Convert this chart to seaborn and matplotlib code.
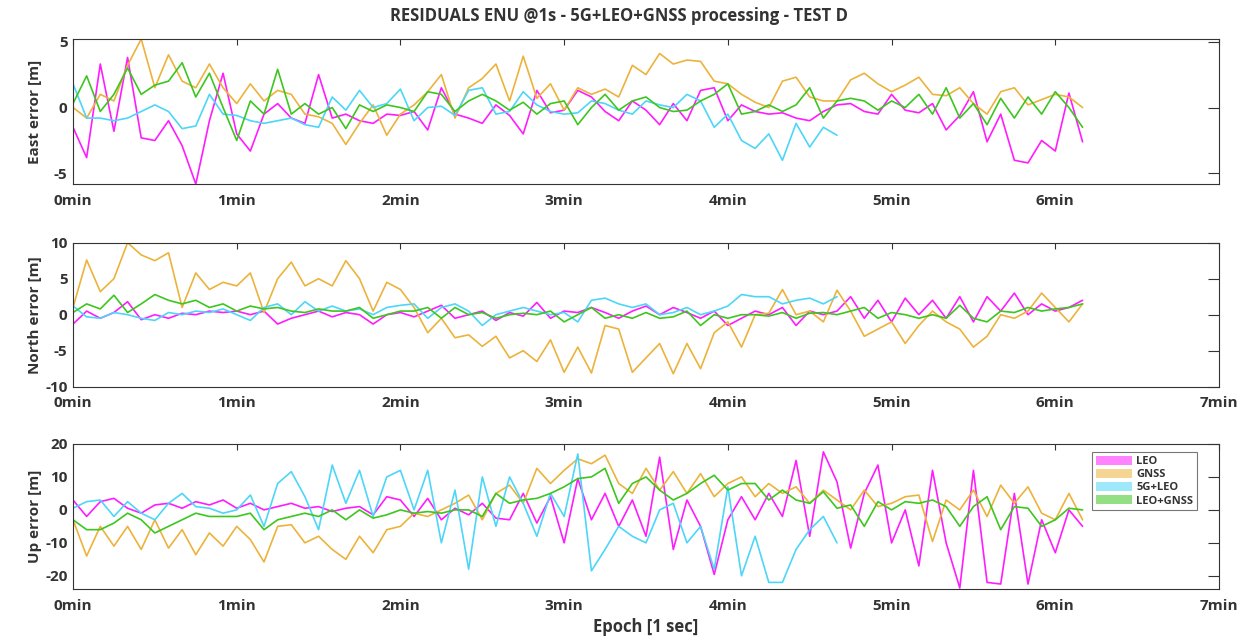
import numpy as np
import pandas as pd
import matplotlib
matplotlib.use("Agg")
import matplotlib.pyplot as plt
from matplotlib.patches import Patch
import seaborn as sns

# epochs in seconds (one value read every 5 s)
epochs_full = np.arange(0, 371, 5)
epochs_5g = np.arange(0, 281, 5)

names = ["LEO", "GNSS", "5G+LEO", "LEO+GNSS"]
colors = ["#FF1CFF", "#ECB33C", "#4DD6F8", "#3DC61F"]

# East error [m]
east_leo = [-1.5, -3.8, 3.3, -1.8, 3.8, -2.3, -2.5, -1.0, -2.9, -5.8,
            -1.0, 2.6, -2.0, -3.3, -0.5, 0.3, -0.8, -1.2, 2.5, -0.8,
            -0.5, -1.0, -1.2, -0.5, -0.6, -0.3, -1.7, 1.5, -0.5, -0.8,
            -1.2, 0.2, -0.6, -2.0, 1.3, -0.4, -0.2, 1.3, 0.8, -0.3,
            -1.0, 0.5, -0.2, -1.3, 0.3, -1.0, 1.3, 1.5, -1.0, 0.2,
            -0.3, -0.5, -0.4, -0.8, -1.0, -0.3, 0.2, 0.3, -0.3, -0.5,
            1.0, -0.2, -0.4, 0.3, -1.7, -0.6, 1.2, -2.6, -0.5, -4.0,
            -4.2, -2.5, -3.3, 1.1, -2.6]
east_gnss = [0.0, -0.8, 1.0, 0.5, 3.2, 5.2, 1.5, 4.0, 2.0, 1.5,
             3.3, 1.5, 0.3, 1.8, 0.5, 1.3, 1.0, -0.5, -0.7, -1.2,
             -2.8, -1.2, 0.2, -2.1, -0.5, 0.2, 1.2, 2.5, -0.8, 1.5,
             2.2, 3.3, 0.5, 3.9, 0.7, 1.8, -0.2, 1.5, 1.0, 1.4,
             0.8, 3.2, 2.5, 4.1, 3.3, 3.6, 3.5, 2.0, 1.8, 1.0,
             0.4, 0.0, 2.0, 2.3, 0.8, 0.5, 0.5, 2.1, 2.6, 1.8,
             1.2, 1.7, 2.3, 1.0, 0.9, 1.5, 0.3, -0.5, 1.2, 1.5,
             0.2, 0.6, 1.0, 0.8, 0.0]
east_5g = [1.8, -0.8, -0.8, -1.0, -0.8, -0.3, 0.2, -0.3, -1.6, -1.4,
           1.0, -0.5, -0.6, -1.0, -1.2, -1.0, -0.8, -1.3, -1.5, 0.8,
           -0.2, 1.3, 0.0, 0.3, 1.4, -1.0, 0.0, 0.1, -0.6, 1.3,
           1.5, -0.5, -0.3, 1.2, 0.2, -0.3, -0.5, -0.4, 0.5, 0.3,
           -0.2, -0.5, 0.5, 0.2, 0.0, 1.0, 0.5, -1.5, -0.5, -2.5,
           -3.1, -2.0, -4.0, -1.2, -3.0, -1.5, -2.1]
east_lg = [0.3, 2.4, -0.3, 1.0, 3.0, 1.0, 1.7, 2.0, 3.4, 0.8,
           2.6, 0.0, -2.5, 0.5, -0.5, 2.9, -0.5, 0.3, -0.5, 0.0,
           -1.6, 0.2, -0.3, 0.2, 0.0, -0.3, 1.2, 1.0, -0.3, 0.5,
           1.0, 0.5, -0.2, 0.4, -0.5, 0.3, 0.5, -1.3, 0.0, 1.0,
           -0.2, 0.5, 0.8, 0.0, -0.3, -0.2, 0.5, 1.0, 1.8, -0.5,
           -0.3, 0.2, -0.3, 0.2, 1.5, -0.8, 0.5, 0.7, 0.5, -0.2,
           0.5, 0.0, 1.0, -0.5, 1.5, -0.8, 0.3, -1.3, 0.7, -0.8,
           0.8, -0.5, 1.2, 0.0, -1.5]

# North error [m]
north_leo = [-1.3, 0.5, -0.5, 0.3, 1.8, -0.7, 0.0, -0.5, 0.2, 0.0,
             0.5, 0.3, 0.5, 0.0, 0.5, -1.3, -0.5, 0.0, 0.5, -0.3,
             0.3, 0.0, -1.3, 0.0, 0.3, -0.3, 0.5, 1.3, -0.5, 0.0,
             0.5, -0.8, 0.3, -0.2, 1.7, -0.5, 0.5, 0.3, 1.0, 0.3,
             -0.5, 0.5, 1.2, 0.0, 1.0, 0.3, -0.5, 0.5, -1.5, -0.5,
             0.5, 0.0, 1.0, -1.5, 0.5, 0.0, 0.5, 2.5, -0.5, 2.0,
             -1.0, 2.3, 0.0, 2.0, -0.5, 2.5, -1.0, 2.5, 0.5, 3.0,
             0.0, 1.5, 0.5, 1.0, 2.0]
north_gnss = [1.0, 7.6, 3.2, 5.0, 10.0, 8.3, 7.5, 8.6, 1.0, 5.8,
              3.5, 4.5, 4.0, 5.8, 0.3, 5.0, 7.3, 4.0, 5.0, 4.0,
              7.5, 5.0, 0.5, 4.5, 3.5, 1.0, -2.5, -0.5, -3.2, -2.8,
              -4.4, -3.0, -6.0, -5.0, -6.5, -3.5, -8.0, -4.5, -8.1, -1.5,
              -2.0, -8.0, -6.0, -4.0, -8.2, -4.0, -7.5, -2.5, -1.0, -4.5,
              0.0, 0.2, 3.5, 0.0, 0.5, -1.0, 3.4, 0.5, -3.0, -2.0,
              -1.0, -4.0, -1.5, 0.5, -1.0, -2.0, -4.5, -3.0, 0.0, -0.5,
              0.5, 3.0, 1.0, -1.0, 1.5]
north_5g = [1.2, -0.3, -0.5, 0.3, 0.0, -0.5, -0.8, 0.3, 0.0, 0.5,
            0.3, 0.8, 0.0, -0.8, 1.0, 1.5, 0.0, 1.8, 0.5, 1.2,
            0.5, 0.8, 0.0, 1.0, 1.3, 1.5, -0.5, 1.0, 1.5, 0.5,
            -1.5, 0.0, 0.5, 1.0, 0.5, 0.0, 0.3, -1.0, 2.0, 2.3,
            1.5, 1.0, 1.5, 0.0, 0.3, 1.0, 0.0, 0.5, 1.2, 2.8,
            2.5, 2.5, 1.5, 2.0, 2.3, 1.5, 2.5]
north_lg = [0.3, 1.5, 0.8, 2.7, 0.3, 1.5, 2.8, 2.0, 1.5, 2.0,
            1.0, 1.5, 0.5, 1.2, 0.8, 1.0, 0.5, 0.3, 0.8, 0.5,
            0.5, 1.0, -0.5, 0.0, 0.5, 0.5, 1.0, -0.5, 1.0, 0.0,
            0.3, -0.5, 0.0, 0.2, 0.0, 0.5, -1.0, 0.0, 1.0, -0.5,
            0.0, -0.5, 0.3, -0.5, -0.3, 0.5, -1.5, 0.0, -0.5, 0.0,
            0.0, -0.2, 0.3, -0.5, 0.2, 0.3, 0.0, 0.5, 1.0, -0.5,
            0.3, 0.0, -0.5, 0.0, -0.5, 1.3, -0.5, -1.0, 0.5, 0.3,
            1.0, 0.5, 0.8, 1.0, 1.5]

# Up error [m]
up_leo = [3.0, -2.0, 2.5, 3.5, 0.5, -1.0, 1.5, 2.0, 0.5, 2.5,
          1.5, 3.0, 0.5, 2.0, 0.0, 1.0, 2.0, 0.5, 1.0, -0.5,
          0.5, 1.0, -1.5, 4.0, 3.0, -2.0, 3.5, -3.0, 0.5, -1.5,
          2.0, -2.5, -3.0, 5.0, -4.0, 4.0, -10.0, 9.5, -3.0, 5.0,
          -5.0, 3.0, -8.0, 16.0, -12.0, 3.0, -5.0, -19.6, -3.0, 4.0,
          -3.0, 5.0, -2.0, 15.0, -8.0, 17.6, 8.5, -11.6, 5.0, 13.6,
          -10.0, 0.0, -17.0, 12.0, -10.0, -23.7, 12.0, -22.0, -22.5, 5.0,
          -22.5, -3.0, -13.0, 0.0, -5.0]
up_gnss = [-3.0, -14.0, -5.0, -11.0, -5.0, -12.0, -3.0, -11.6, -6.0, -13.6,
           -7.0, -11.0, -5.0, -9.0, -15.8, -5.0, -4.5, -10.0, -8.0, -12.0,
           -15.0, -8.0, -13.0, -6.0, -5.0, -1.0, -2.0, 0.0, 2.0, 4.5,
           -3.0, 5.0, 7.5, 2.0, 12.6, 8.0, 12.0, 15.5, 14.0, 16.6,
           8.0, 5.0, 12.6, 6.0, 11.6, 5.0, 11.0, 4.0, 8.0, 10.0,
           4.0, 8.0, 5.0, 7.0, 2.0, 6.0, 3.0, 0.0, 6.0, 1.0,
           2.0, 4.0, 4.5, -9.6, 3.0, 0.0, 6.0, -2.0, 7.5, 2.0,
           7.0, -1.0, -3.0, 5.0, -3.0]
up_5g = [0.5, 2.5, 3.0, -2.0, 2.5, -1.0, -3.0, 2.0, 5.0, 1.0,
         0.5, -1.0, 0.0, 4.5, -5.0, 8.0, 11.6, 4.0, -6.0, 13.6,
         2.0, 12.0, -2.0, 10.0, 12.0, 0.0, 12.0, -10.0, 6.0, -18.0,
         10.0, -5.0, 10.0, 2.0, -8.0, 5.0, -2.0, 17.0, -18.5, -12.0,
         -5.0, -8.0, -10.0, 0.0, 2.0, -10.0, -5.0, -18.0, 7.0, -20.0,
         -8.0, -22.0, -22.0, -12.0, -6.0, -2.0, -10.0]
up_lg = [-3.0, -6.0, -6.0, -4.0, -1.0, -3.0, -7.0, -5.0, -3.0, -1.0,
         -2.0, -2.0, -2.0, -1.0, -6.0, -3.0, -2.0, -1.0, -2.0, 0.0,
         -3.0, 0.0, -2.5, -1.5, 0.0, -1.0, -0.5, -1.0, 0.0, 0.0,
         -2.0, 5.0, 2.0, 3.0, 3.5, 5.0, 7.0, 9.5, 10.0, 12.6,
         2.0, 8.0, 10.0, 6.0, 3.0, 5.0, 8.0, 10.5, 6.0, 8.0,
         8.0, 3.0, 6.0, 3.0, 2.0, 5.5, 0.5, 1.5, -5.0, 2.5,
         0.0, 2.5, 2.0, 3.0, 1.0, -5.0, 1.0, 4.0, -6.0, 1.0,
         0.5, -5.0, -3.0, 0.5, 0.0]

xtick_sec = [0, 60, 120, 180, 240, 300, 360, 420]
xtick_lab = ["0min", "1min", "2min", "3min", "4min", "5min", "6min", "7min"]

sns.set_style("white")
plt.rcParams["font.family"] = ["Open Sans", "DejaVu Sans"]
txt = "#333333"


def long_table(series):
    rows = []
    for name, vals in zip(names, series):
        ep = epochs_5g if name == "5G+LEO" else epochs_full
        rows.append(pd.DataFrame({"epoch": ep[:len(vals)], "err": vals, "sol": name}))
    return pd.concat(rows, ignore_index=True)


def draw_panel(ax, series, ylim, yticks, ylabel, last_label=True):
    df = long_table(series)
    sns.lineplot(data=df, x="epoch", y="err", hue="sol", hue_order=names,
                 palette=colors, estimator=None, sort=False, lw=1.2,
                 legend=False, ax=ax)
    ax.set_xlim(0, 420)
    ax.set_ylim(*ylim)
    ax.set_xticks(xtick_sec)
    labs = list(xtick_lab)
    if not last_label:
        labs[-1] = ""
    ax.set_xticklabels(labs, fontsize=11, fontweight="bold", color=txt)
    ax.set_yticks(yticks)
    ax.set_yticklabels([str(v) for v in yticks], fontsize=11, fontweight="bold", color=txt)
    ax.tick_params(axis="x", direction="in", top=True, length=4, width=0.8,
                   color=txt, pad=7)
    ax.tick_params(axis="y", direction="in", right=True, length=8, width=0.8,
                   color=txt, pad=4)
    ax.set_xlabel("")
    ax.set_ylabel(ylabel, fontsize=11, fontweight="bold", color=txt)
    ax.yaxis.set_label_coords(-0.027, 0.5)
    for s in ax.spines.values():
        s.set_color(txt)
        s.set_linewidth(0.8)


fig = plt.figure(figsize=(12.5, 6.4), dpi=100)
ax1 = fig.add_axes([0.0584, 0.7125, 0.9168, 0.2266])
ax2 = fig.add_axes([0.0584, 0.3958, 0.9168, 0.2250])
ax3 = fig.add_axes([0.0584, 0.0797, 0.9168, 0.2266])

draw_panel(ax1, [east_leo, east_gnss, east_5g, east_lg], (-5.8, 5.2), [-5, 0, 5],
           "East error [m]", last_label=False)
draw_panel(ax2, [north_leo, north_gnss, north_5g, north_lg], (-10, 10),
           [-10, -5, 0, 5, 10], "North error [m]")
draw_panel(ax3, [up_leo, up_gnss, up_5g, up_lg], (-24, 20),
           [-20, -10, 0, 10, 20], "Up error [m]")
ax3.set_xlabel("Epoch [1 sec]", fontsize=12, fontweight="bold", color=txt, labelpad=4)

handles = [Patch(facecolor=c, alpha=0.55, edgecolor="none", label=n)
           for n, c in zip(names, colors)]
leg = ax3.legend(handles=handles, loc="upper right", bbox_to_anchor=(0.981, 0.945),
                 borderaxespad=0, fontsize=8, frameon=True, fancybox=False,
                 handlelength=3.2, handleheight=0.9, handletextpad=0.4,
                 labelspacing=0.15, borderpad=0.35,
                 prop={"weight": "bold", "size": 8})
leg.get_frame().set_edgecolor("#555555")
leg.get_frame().set_linewidth(0.8)
for t in leg.get_texts():
    t.set_color(txt)

fig.text(0.495, 0.975, "RESIDUALS ENU @1s - 5G+LEO+GNSS processing - TEST D",
         ha="center", va="center", fontsize=12, fontweight="bold", color=txt)

fig.savefig("out.png", dpi=100)
